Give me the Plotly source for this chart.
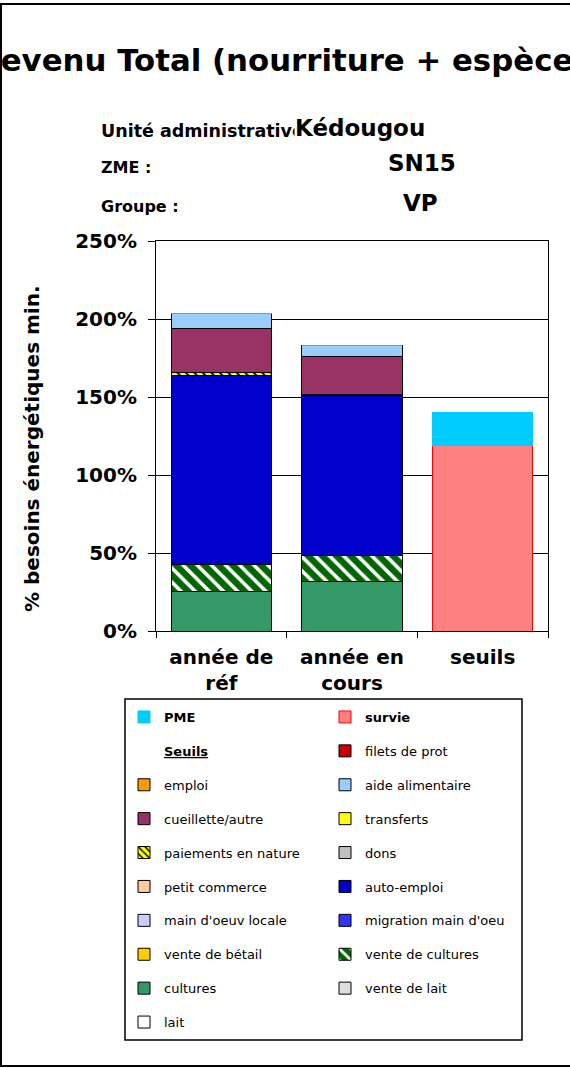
import plotly.graph_objects as go

W, H = 570, 1068
L, R, T, B = 156, 22, 241, 437

categories = ["année de<br>réf", "année en<br>cours", "seuils"]

# valeurs en fraction des besoins énergétiques (1.0 = 100%)
lait = [0, 0, 0]
vente_de_lait = [0, 0, 0]
cultures = [0.256, 0.316, 0]
vente_de_cultures = [0.171, 0.169, 0]
vente_de_betail = [0, 0, 0]
migration_main_oeu = [0, 0, 0]
main_oeuv_locale = [0, 0, 0]
auto_emploi = [1.214, 1.023, 0]
petit_commerce = [0, 0, 0]
dons = [0, 0, 0]
paiements_en_nature = [0.015, 0.008, 0]
transferts = [0, 0, 0]
cueillette_autre = [0.281, 0.243, 0]
aide_alimentaire = [0.10, 0.07, 0]
emploi = [0, 0, 0]
filets_de_prot = [0, 0, 0]
seuils_titre = [0, 0, 0]
survie = [0, 0, 1.186]
pme = [0, 0, 0.216]

FONT = "DejaVu Sans"


def px_x(px):
    return (px - L) / (W - L - R)


def px_y(py):
    return (H - B - py) / (H - T - B)


# ordre d'empilement (bas -> haut): nom, valeurs, couleur, bordure, motif, colonne de légende
series = [
    ("lait", lait, "#FFFFFF", "black", None, "legend"),
    ("vente de lait", vente_de_lait, "#DDDDDD", "black", None, "legend2"),
    ("cultures", cultures, "#339966", "black", None, "legend"),
    ("vente de cultures", vente_de_cultures, "#006600", "black", ("\\", "white", 10, 0.35), "legend2"),
    ("vente de bétail", vente_de_betail, "#FFCC00", "black", None, "legend"),
    ("migration main d'oeu", migration_main_oeu, "#3333FF", "black", None, "legend2"),
    ("main d'oeuv locale", main_oeuv_locale, "#CCCCFF", "black", None, "legend"),
    ("auto-emploi", auto_emploi, "#0000CC", "black", None, "legend2"),
    ("petit commerce", petit_commerce, "#FFCC99", "black", None, "legend"),
    ("dons", dons, "#C0C0C0", "black", None, "legend2"),
    ("paiements en nature", paiements_en_nature, "#FFFF00", "black", ("\\", "black", 6, 0.3), "legend"),
    ("transferts", transferts, "#FFFF00", "black", None, "legend2"),
    ("cueillette/autre", cueillette_autre, "#993366", "black", None, "legend"),
    ("aide alimentaire", aide_alimentaire, "#99CCFF", "black", None, "legend2"),
    ("emploi", emploi, "#FF9900", "black", None, "legend"),
    ("filets de prot", filets_de_prot, "#CC0000", "black", None, "legend2"),
    ("<b><u>Seuils</u></b>", seuils_titre, "rgba(0,0,0,0)", "rgba(0,0,0,0)", None, "legend"),
    ("<b>survie</b>", survie, "#FF8080", "#FF0000", None, "legend2"),
    ("<b>PME</b>", pme, "#00CCFF", "#00CCFF", None, "legend"),
]

fig = go.Figure()
for i, (name, vals, color, lcolor, pattern, leg) in enumerate(series):
    marker = dict(color=color, line=dict(color=lcolor, width=1))
    if pattern:
        shape, fg, size, sol = pattern
        marker["pattern"] = dict(shape=shape, fgcolor=fg, bgcolor=color,
                                 size=size, solidity=sol, fillmode="replace")
    fig.add_trace(go.Bar(
        x=categories, y=vals, name=name, marker=marker,
        legend=leg, legendgroup=name, legendrank=len(series) - i,
    ))

legend_common = dict(
    orientation="v", traceorder="grouped", tracegroupgap=14,
    font=dict(family=FONT, size=13, color="black"),
    bgcolor="rgba(0,0,0,0)", xanchor="left", yanchor="top",
)

fig.update_layout(
    width=W, height=H,
    margin=dict(l=L, r=R, t=T, b=B),
    barmode="stack", bargap=0.23,
    template="plotly_white",
    paper_bgcolor="white", plot_bgcolor="white",
    font=dict(family=FONT, color="black"),
    legend=dict(x=px_x(124), y=px_y(702), **legend_common),
    legend2=dict(x=px_x(325), y=px_y(702), **legend_common),
)

fig.update_xaxes(
    tickfont=dict(family=FONT, size=20, color="black", weight="bold"),
    ticks="outside", tickson="boundaries", ticklen=6, tickcolor="black",
    ticklabelstandoff=8,
    showline=True, linecolor="black", linewidth=1, mirror=True,
    showgrid=False,
)
fig.update_yaxes(
    range=[0, 2.5], dtick=0.5, tickformat=".0%",
    tickfont=dict(family=FONT, size=20, color="black", weight="bold"),
    ticks="outside", ticklen=7, tickcolor="black", ticklabelstandoff=7,
    showline=True, linecolor="black", linewidth=1, mirror=True,
    showgrid=True, gridcolor="black", gridwidth=1, zeroline=False,
)

texts = [
    ("Revenu Total (nourriture + espèces)", 291, 60, 30.8, "center", "rgba(0,0,0,0)"),
    ("Unité administrative", 100, 131, 17.5, "left", "rgba(0,0,0,0)"),
    ("Kédougou", 294, 128, 23, "left", "white"),
    ("ZME :", 100, 167, 16, "left", "rgba(0,0,0,0)"),
    ("SN15", 387, 163, 23, "left", "rgba(0,0,0,0)"),
    ("Groupe :", 100, 206, 16, "left", "rgba(0,0,0,0)"),
    ("VP", 402, 203, 23, "left", "rgba(0,0,0,0)"),
]
for text, x, y, size, anchor, bg in texts:
    fig.add_annotation(
        text=f"<b>{text}</b>", x=px_x(x), y=px_y(y), xref="paper", yref="paper",
        xanchor=anchor, yanchor="middle", showarrow=False, bgcolor=bg, borderpad=0,
        font=dict(family=FONT, size=size, color="black"),
    )

fig.add_annotation(
    text="<b>% besoins énergétiques min.</b>", x=px_x(32), y=px_y(449),
    xref="paper", yref="paper", xanchor="center", yanchor="middle",
    textangle=-90, showarrow=False,
    font=dict(family=FONT, size=20, color="black"),
)

# cadre du graphique et cadre de la légende
fig.add_shape(type="rect", xref="paper", yref="paper",
              x0=px_x(1), x1=px_x(580), y0=px_y(4), y1=px_y(1066),
              line=dict(color="black", width=2))
fig.add_shape(type="rect", xref="paper", yref="paper",
              x0=px_x(125), x1=px_x(522), y0=px_y(699), y1=px_y(1040),
              line=dict(color="black", width=1.5))

fig.write_html("out.html", config={"displayModeBar": False},
               post_script="document.body.style.margin='0';")
